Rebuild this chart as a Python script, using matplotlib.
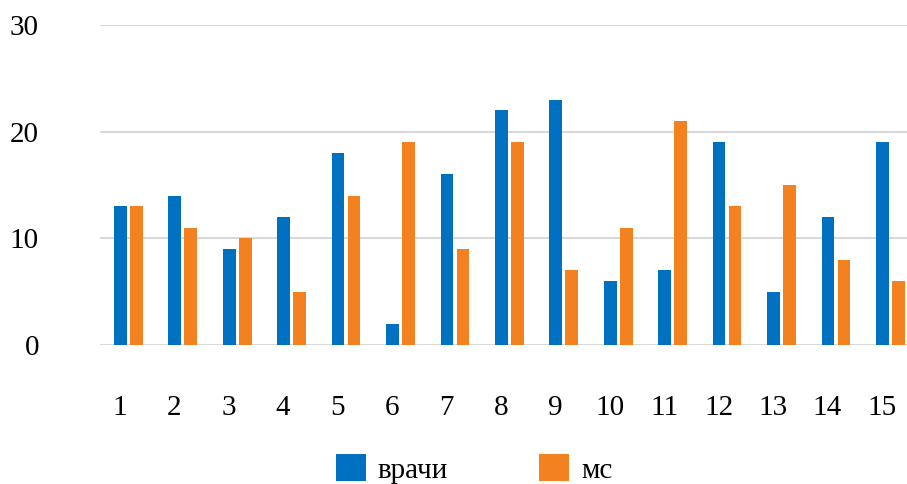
import numpy as np
import matplotlib
matplotlib.use('Agg')
import matplotlib.pyplot as plt

plt.rcParams['font.family'] = ['Liberation Serif', 'DejaVu Serif']

# Данные
categories = ['1', '2', '3', '4', '5', '6', '7', '8', '9', '10', '11', '12', '13', '14', '15']
vrachi = [13, 14, 9, 12, 18, 2, 16, 22, 23, 6, 7, 19, 5, 12, 19]
ms = [13, 11, 10, 5, 14, 19, 9, 19, 7, 11, 21, 13, 15, 8, 6]

x = np.arange(1, len(categories) + 1)
w = 0.235

fig = plt.figure(figsize=(9.07, 4.84), dpi=100)
ax = fig.add_axes([100 / 907, 139 / 484, 807 / 907, 320 / 484])

ax.bar(x - 0.142, vrachi, width=w, color='#0070C0', label='врачи', zorder=3)
ax.bar(x + 0.152, ms, width=w, color='#F48120', label='мс', zorder=3)

ax.set_ylim(0, 30)
ax.set_xlim(0.485, 15.31)
ax.set_yticks([0, 10, 20, 30])
ax.yaxis.grid(True, color='#D9D9D9', linewidth=1.5, zorder=0)
for s in ax.spines.values():
    s.set_visible(False)

# подписи оси X чуть левее групп
ax.set_xticks(x - 0.15)
ax.set_xticklabels(categories)
ax.tick_params(axis='x', length=0, pad=36, labelsize=21)
ax.tick_params(axis='y', length=0, pad=44, labelsize=21)

fig.legend(loc='center', bbox_to_anchor=(474 / 907, 15 / 484), ncol=2, frameon=False,
           fontsize=21, handlelength=1.05, handleheight=1.05, handletextpad=0.4,
           columnspacing=3.1)

plt.savefig('out.png', dpi=100)
